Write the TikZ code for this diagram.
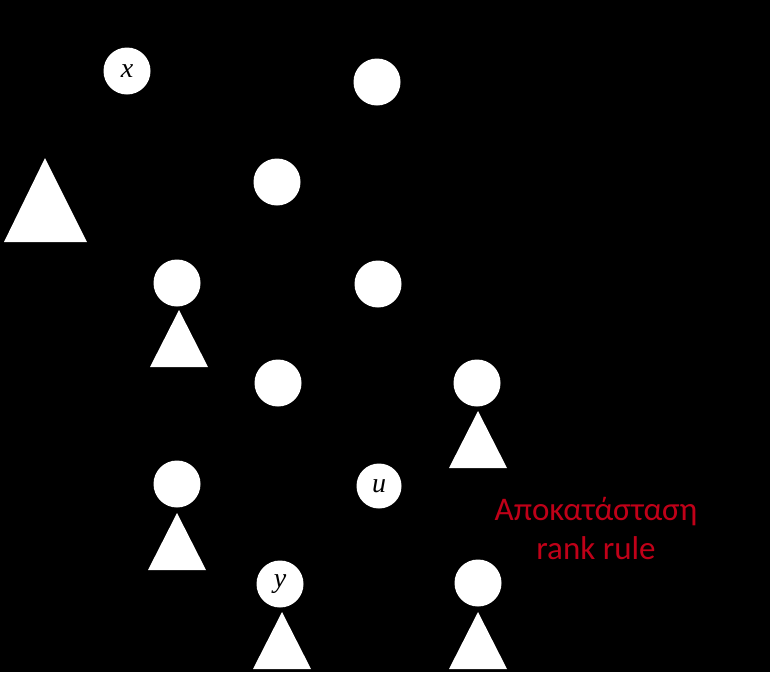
\documentclass[tikz,border=0pt]{standalone}
\usepackage{fontspec}
\newfontfamily\labelfont{Carlito}
\newfontfamily\varfont{Liberation Serif}
\usetikzlibrary{positioning}
\definecolor{rankred}{RGB}{192,0,24}

\begin{document}
\begin{tikzpicture}[x=1pt, y=-1pt,
    vertex/.style={circle, fill=white, minimum size=47pt, inner sep=0pt,
                   font=\varfont\itshape\fontsize{28}{28}\selectfont},
    subtree/.style={fill=white}]
    \fill[black] (0, 0) rectangle (770, 672);
    \useasboundingbox (0, 0) rectangle (770, 672);
    % nodes
    \node[vertex] (x) at (127, 71) {x};
    \node[vertex] (a) at (377, 82) {};
    \node[vertex] (b) at (277, 182) {};
    \node[vertex] (c) at (177, 283) {};
    \node[vertex] (d) at (378, 284) {};
    \node[vertex] (e) at (278, 383) {};
    \node[vertex] (f) at (477, 383) {};
    \node[vertex] (g) at (177, 484) {};
    \node[vertex, minimum size=45pt] (u) at (379, 486) {u};
    \node[vertex] (y) at (280, 584) {y};
    \node[vertex] (h) at (478, 583) {};
    % subtrees
    \fill[subtree] (45, 158) -- (4, 242) -- (87, 242) -- cycle;
    \foreach \px/\py in {179/310, 478/411, 177/513, 282/612, 478/612} {
        \fill[subtree] (\px, \py) -- ++(-29, 57) -- ++(58, 0) -- cycle;
    }
    % note
    \node[text=rankred, align=center, font=\labelfont\fontsize{33}{39}\selectfont]
        (note) at (596, 528) {Αποκατάσταση\\rank rule};
\end{tikzpicture}
\end{document}
